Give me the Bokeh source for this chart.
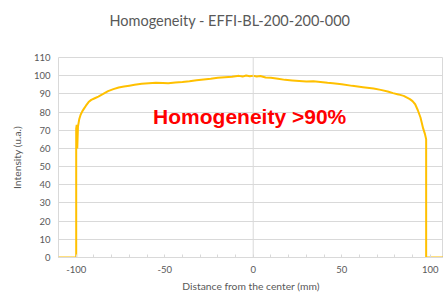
from bokeh.plotting import figure
from bokeh.models import Span, Label, FixedTicker, Range1d, PrintfTickFormatter, Title
from bokeh.embed import file_html
from bokeh.resources import INLINE

# Data
distance_mm = [-110, -100, -100, -99.7, -99.4, -99, -98.3, -97.5, -96.5, -95.5, -94.5, -93, -91.5,
               -89.5, -87.5, -85, -82, -79, -76, -73, -70, -67, -63, -59, -55, -51, -48, -44,
               -40, -36, -32, -28, -24, -20, -16, -12, -8, -6, -4, -2, 0, 2, 4, 7, 10, 14,
               18, 22, 26, 30, 34, 38, 42, 45, 50, 56, 62, 68, 72, 76, 79, 82, 85, 88.5,
               90, 91.5, 93, 94.5, 96, 97, 97.7, 97.7, 110]
intensity = [0, 0, 71, 73, 60, 72, 76, 78.5, 80.5, 82, 83.5, 85.5, 86.7,
             87.6, 88.5, 89.8, 91.5, 92.6, 93.5, 94, 94.5, 95, 95.5, 95.8, 96.1, 96, 95.9, 96.3,
             96.5, 96.9, 97.5, 97.9, 98.3, 98.8, 99.1, 99.4, 99.9, 99.5, 100.1, 99.7, 100, 99.6, 99.8, 99, 98.8, 98.3,
             97.7, 97.4, 97.1, 96.8, 96.9, 96.5, 96.1, 95.9, 95.3, 94.4, 93.7, 93, 92.2, 91.3, 90.4, 89.7, 88.9, 87.1,
             86, 84.3, 81, 77, 71, 68, 65, 0, 0]

x_ticks = [-100, -50, 0, 50, 100]
y_ticks = [0, 10, 20, 30, 40, 50, 60, 70, 80, 90, 100, 110]

title_text = "Homogeneity - EFFI-BL-200-200-000"
annotation_text = "Homogeneity >90%"
x_label = "Distance from the center (mm)"
y_label = "Intensity (u.a.)"

FONT = "Lato"
GRAY = "#595959"

p = figure(width=443, height=298, output_backend="svg", toolbar_location=None,
           x_range=Range1d(-110, 107.5), y_range=Range1d(0, 110),
           min_border_left=58, min_border_right=0, min_border_top=57, min_border_bottom=41)

# real chart title
p.title.text = title_text
p.title.align = "left"
p.title.offset = 51
p.title.standoff = 0
p.title.text_font = FONT
p.title.text_font_size = "14.5px"
p.title.text_font_style = "normal"
p.title.text_color = GRAY

# blank spacer between the title and the plot area
p.add_layout(Title(text=" ", text_font_size="10px", standoff=16), "above")

p.outline_line_color = "#d9d9d9"
p.background_fill_color = "white"
p.border_fill_color = "white"

p.xgrid.visible = False
p.ygrid.ticker = FixedTicker(ticks=y_ticks)
p.ygrid.grid_line_color = "#d9d9d9"

p.add_layout(Span(location=0, dimension="height", line_color="#d9d9d9", line_width=1))

p.xaxis.ticker = FixedTicker(ticks=x_ticks, minor_ticks=list(range(-100, 101, 10)))
p.yaxis.ticker = FixedTicker(ticks=y_ticks)
p.xaxis.formatter = PrintfTickFormatter(format="%d")
p.yaxis.formatter = PrintfTickFormatter(format="%d")

for ax in (p.xaxis[0], p.yaxis[0]):
    ax.major_label_text_font = FONT
    ax.major_label_text_font_size = "9.5px"
    ax.major_label_text_color = GRAY
    ax.axis_label_text_font = FONT
    ax.axis_label_text_font_size = "10.3px"
    ax.axis_label_text_font_style = "normal"
    ax.axis_label_text_color = GRAY
    ax.major_tick_out = 0
    ax.major_tick_in = 0

p.xaxis.axis_label = x_label
p.yaxis.axis_label = y_label
p.xaxis.axis_line_color = "#d9d9d9"
p.xaxis.minor_tick_line_color = "#d9d9d9"
p.xaxis.minor_tick_in = 3
p.xaxis.minor_tick_out = 0
p.xaxis.major_label_standoff = 8
p.xaxis.axis_label_standoff = 4
p.yaxis.axis_line_color = None
p.yaxis.minor_tick_line_color = None
p.yaxis.major_label_standoff = 8
p.yaxis.axis_label_standoff = 8

p.line(distance_mm, intensity, line_color="#FFC000", line_width=2)

p.add_layout(Label(x=-2, y=77.5, text=annotation_text, text_align="center", text_baseline="middle",
                   text_font="Liberation Sans", text_font_size="21px", text_font_style="bold",
                   text_color="#FF0000"))

open("out.html", "w").write(file_html(p, INLINE))
